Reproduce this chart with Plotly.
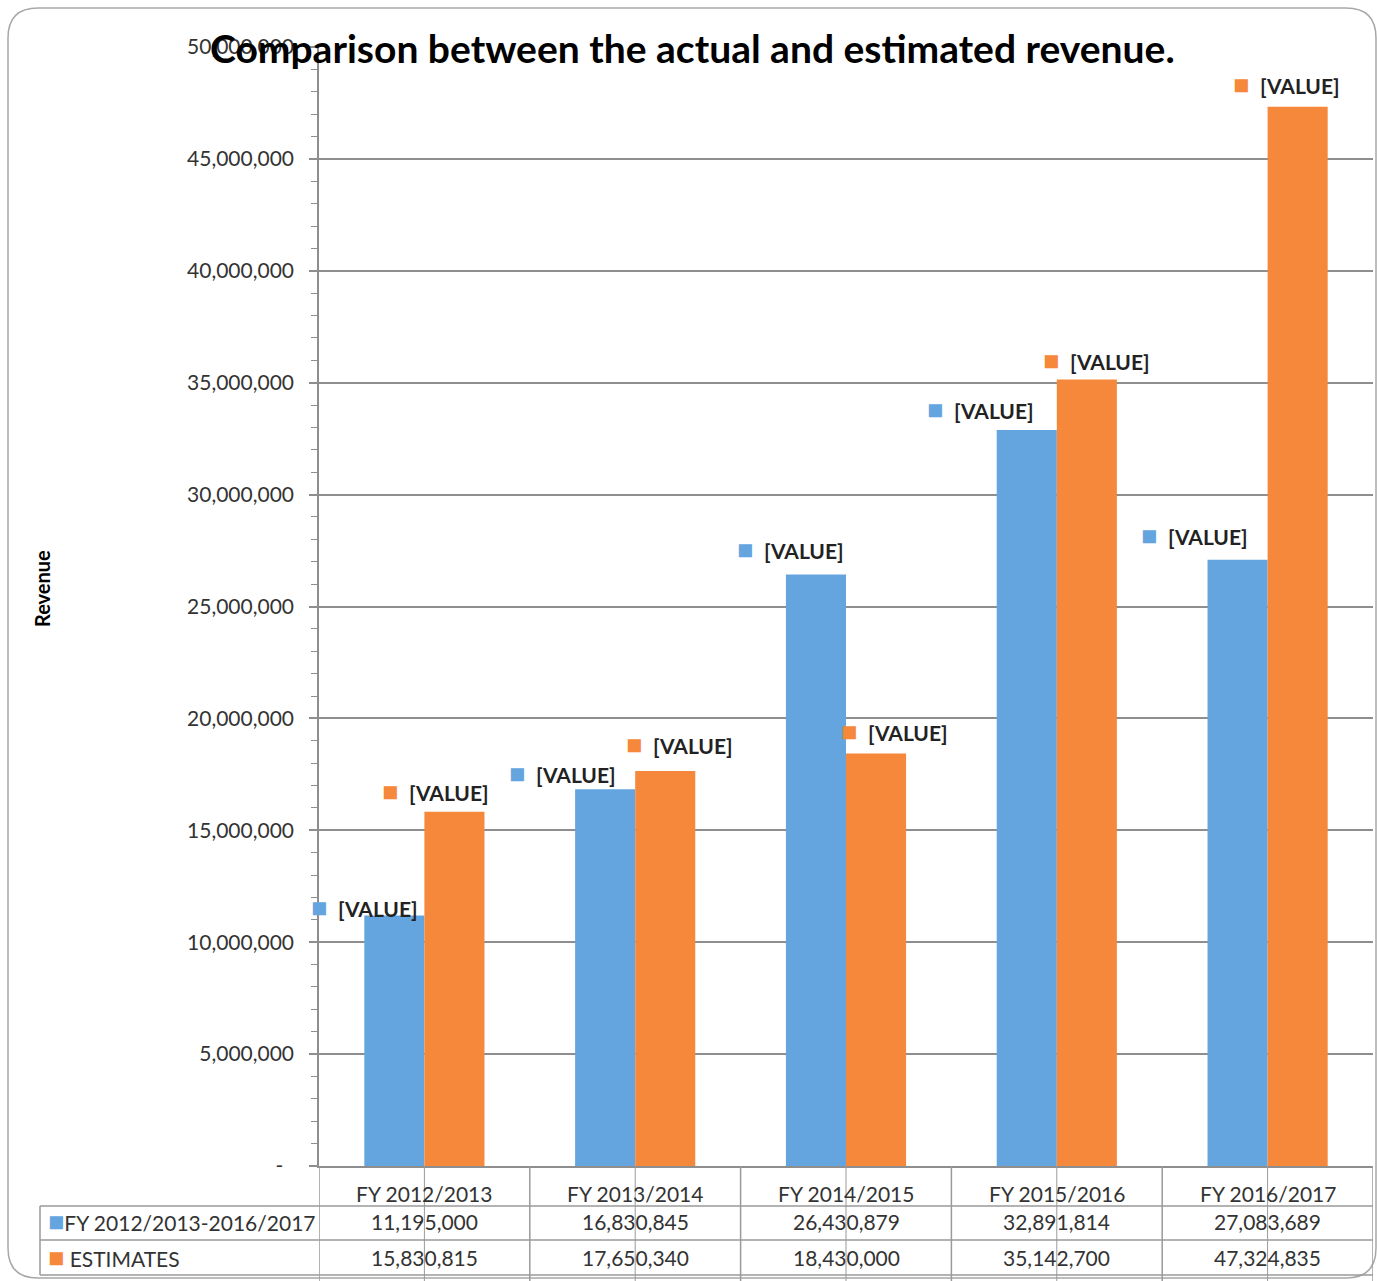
import plotly.graph_objects as go

# ---------------- data ----------------
categories = ["FY 2012/2013", "FY 2013/2014", "FY 2014/2015", "FY 2015/2016", "FY 2016/2017"]
actual = [11195000, 16830845, 26430879, 32891814, 27083689]
estimates = [15830815, 17650340, 18430000, 35142700, 47324835]
series_names = ["FY 2012/2013-2016/2017", "ESTIMATES"]
ytick_vals = [0, 5e6, 10e6, 15e6, 20e6, 25e6, 30e6, 35e6, 40e6, 45e6, 50e6]
ytick_text = ["-\u00a0\u00a0", "5,000,000", "10,000,000", "15,000,000", "20,000,000",
              "25,000,000", "30,000,000", "35,000,000", "40,000,000", "45,000,000", "50,000,000"]
label_text = "[VALUE]"
title_text = "Comparison between the actual and estimated revenue."
y_title = "Revenue"

# ---------------- styling ----------------
BLUE = "#64A4DF"
ORANGE = "#F6883B"
GRID = "#8E8E8E"
TXT = "#333333"
FONT = "Lato"

# label nudges in pixels (dx, up) for each data label
blue_nudge = [(-30, 9), (-43, 17), (-25, 26), (-46, 21), (-43, 25)]
orange_nudge = [(-19, 21), (14, 27), (18, 23), (10, 20), (-11, 23)]

W, H = 1377, 1281
ML, MR, MT, MB = 319, 4, 47, 0
PW = W - ML - MR
PH = H - MT - MB
AXIS_PX = 1166
BARGAP = 0.43


def px_x(p):
    return (p - ML) / PW


def px_y(p):
    return (H - MB - p) / PH


dom0 = px_y(AXIS_PX)

fig = go.Figure()
fig.add_trace(go.Bar(x=categories, y=actual, name=series_names[0], marker_color=BLUE,
                     marker_line_width=0))
fig.add_trace(go.Bar(x=categories, y=estimates, name=series_names[1], marker_color=ORANGE,
                     marker_line_width=0))

shapes = []
annotations = []

SQ = '<span style="color:{c};font-size:27px">■</span>'

# data labels
bw = (1 - BARGAP) / 2
for i, cat in enumerate(categories):
    for vals, nud, col, off in ((actual, blue_nudge, BLUE, -bw / 2), (estimates, orange_nudge, ORANGE, bw / 2)):
        annotations.append(dict(
            x=i + off, y=vals[i], xref="x", yref="y",
            text=SQ.format(c=col) + f'\u00a0\u00a0<b>{label_text}</b>',
            showarrow=False, xanchor="center", yanchor="middle",
            xshift=nud[i][0], yshift=nud[i][1],
            font=dict(family=FONT, size=21, color="#222222"),
        ))

# data table
line_c = "#9A9A9A"
for yp in (1206, 1240, 1275):
    shapes.append(dict(type="line", xref="paper", yref="paper", x0=px_x(40), x1=px_x(1373),
                       y0=px_y(yp), y1=px_y(yp), line=dict(color=line_c, width=1.5)))
shapes.append(dict(type="line", xref="paper", yref="paper", x0=px_x(40), x1=px_x(40),
                   y0=px_y(1206), y1=px_y(1275), line=dict(color=line_c, width=1.5)))
for i in range(len(categories) + 1):
    shapes.append(dict(type="line", xref="x", yref="paper", x0=i - 0.5, x1=i - 0.5,
                       y0=dom0, y1=0, line=dict(color=line_c, width=1.5)))
for i in range(len(categories)):
    shapes.append(dict(type="line", xref="x", yref="paper", x0=i, x1=i,
                       y0=dom0, y1=0, line=dict(color=line_c, width=1)))

TF = dict(family=FONT, size=21, color=TXT)
for i, cat in enumerate(categories):
    annotations.append(dict(x=i, y=px_y(1193), xref="x", yref="paper", text=cat, showarrow=False,
                            font=TF, yanchor="middle"))
    annotations.append(dict(x=i, y=px_y(1221), xref="x", yref="paper", text=f"{actual[i]:,}",
                            showarrow=False, font=TF, yanchor="middle"))
    annotations.append(dict(x=i, y=px_y(1257), xref="x", yref="paper", text=f"{estimates[i]:,}",
                            showarrow=False, font=TF, yanchor="middle"))

annotations.append(dict(x=px_x(46), y=px_y(1220), xref="paper", yref="paper", xanchor="left",
                        yanchor="middle", showarrow=False,
                        text=SQ.format(c=BLUE) + series_names[0], font=TF))
annotations.append(dict(x=px_x(46), y=px_y(1256), xref="paper", yref="paper", xanchor="left",
                        yanchor="middle", showarrow=False,
                        text=SQ.format(c=ORANGE) + '\u00a0' + series_names[1], font=TF))

# title and axis title
annotations.append(dict(x=px_x(692), y=px_y(48), xref="paper", yref="paper", xanchor="center",
                        yanchor="middle", showarrow=False, text=f"<b>{title_text}</b>",
                        font=dict(family=FONT, size=39, color="#000000")))
annotations.append(dict(x=px_x(42), y=px_y(589), xref="paper", yref="paper", xanchor="center",
                        yanchor="middle", showarrow=False, text=f"<b>{y_title}</b>", textangle=-90,
                        font=dict(family=FONT, size=20, color="#000000")))

# outer rounded border
x0, x1, y0, y1, r = 8, 1376, 8, 1278, 30
def P(x, y):
    return f"{px_x(x)},{px_y(y)}"
path = (f"M {P(x0 + r, y0)} L {P(x1 - r, y0)} Q {P(x1, y0)} {P(x1, y0 + r)} "
        f"L {P(x1, y1 - r)} Q {P(x1, y1)} {P(x1 - r, y1)} L {P(x0 + r, y1)} "
        f"Q {P(x0, y1)} {P(x0, y1 - r)} L {P(x0, y0 + r)} Q {P(x0, y0)} {P(x0 + r, y0)} Z")
shapes.append(dict(type="path", xref="paper", yref="paper", path=path,
                   line=dict(color="#A8A8A8", width=1.5), layer="below"))

fig.update_layout(
    width=W, height=H,
    margin=dict(l=ML, r=MR, t=MT, b=MB, pad=0, autoexpand=False),
    paper_bgcolor="white", plot_bgcolor="white",
    barmode="group", bargap=BARGAP, bargroupgap=0,
    showlegend=False,
    font=dict(family=FONT, size=21, color=TXT),
    shapes=shapes, annotations=annotations,
    xaxis=dict(type="category", range=[-0.5, len(categories) - 0.5], showticklabels=False,
               showgrid=False, zeroline=False, showline=True, linecolor=GRID, linewidth=1.5,
               ticks=""),
    yaxis=dict(domain=[dom0, 1], range=[0, 50e6], tickvals=ytick_vals, ticktext=ytick_text,
               showgrid=True, gridcolor=GRID, gridwidth=1.5, zeroline=False,
               showline=True, linecolor=GRID, linewidth=1.5,
               ticks="outside", ticklen=8, tickcolor=GRID, tickwidth=1.5,
               ticklabelstandoff=11,
               minor=dict(dtick=1e6, tick0=0, ticks="outside", ticklen=6, tickcolor=GRID,
                          tickwidth=1, showgrid=False),
               tickfont=dict(family=FONT, size=21, color=TXT)),
)

fig.write_html("out.html")
